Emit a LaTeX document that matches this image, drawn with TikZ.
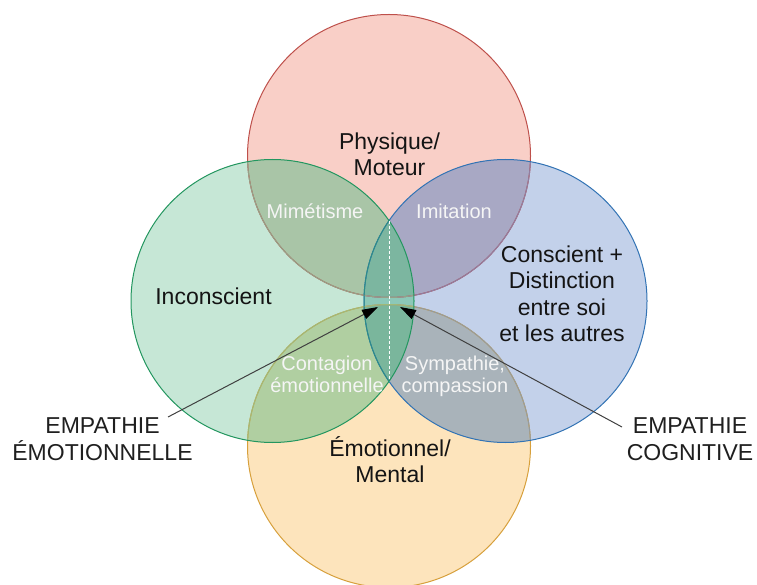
\documentclass[tikz,border=0pt]{standalone}
\usepackage{fontspec}
\setmainfont{Liberation Sans}
\usetikzlibrary{arrows.meta, positioning}
\definecolor{physfill}{RGB}{249,207,199}
\definecolor{physline}{RGB}{190,80,75}
\definecolor{emofill}{RGB}{253,228,188}
\definecolor{emoline}{RGB}{215,160,60}
\definecolor{consfill}{RGB}{195,209,234}
\definecolor{consline}{RGB}{50,115,180}
\definecolor{inconsfill}{RGB}{198,231,214}
\definecolor{inconsline}{RGB}{35,150,95}
\definecolor{mimfill}{RGB}{169,197,167}
\definecolor{imifill}{RGB}{168,168,196}
\definecolor{contfill}{RGB}{176,207,161}
\definecolor{sympfill}{RGB}{169,179,186}
\definecolor{lensfill}{RGB}{140,200,184}
\definecolor{lenstop}{RGB}{124,182,160}
\definecolor{lensbot}{RGB}{122,182,156}
\def\zr{141.5pt}

\begin{document}
\begin{tikzpicture}[x=1pt,y=-1pt,
  big/.style={font=\fontsize{23}{26.5}\selectfont,text=black!92,align=center,inner sep=0pt,anchor=base},
  small/.style={font=\fontsize{20}{21.5}\selectfont,text=white!96!black,align=center,inner sep=0pt,anchor=base},
  rim/.style={line width=1pt},
  pointer/.style={draw=black!75,line width=1pt,-{Triangle[length=16pt,width=10pt,black]}}]
\useasboundingbox (0,0) rectangle (757,585);
% centres of the four circles
\coordinate (c1) at (389,156);
\coordinate (c2) at (389,446);
\coordinate (c3) at (505.5,301);
\coordinate (c4) at (272.5,301);
\fill[physfill] (c1) circle[radius=\zr];
\fill[emofill] (c2) circle[radius=\zr];
\fill[consfill] (c3) circle[radius=\zr];
\fill[inconsfill] (c4) circle[radius=\zr];
% overlaps
\begin{scope}\clip (c1) circle[radius=\zr]; \fill[mimfill] (c4) circle[radius=\zr]; \fill[imifill] (c3) circle[radius=\zr];\end{scope}
\begin{scope}\clip (c2) circle[radius=\zr]; \fill[contfill] (c4) circle[radius=\zr]; \fill[sympfill] (c3) circle[radius=\zr];\end{scope}
\begin{scope}\clip (c3) circle[radius=\zr]; \fill[lensfill] (c4) circle[radius=\zr];\end{scope}
\begin{scope}\clip (c1) circle[radius=\zr]; \clip (c3) circle[radius=\zr]; \fill[lenstop] (c4) circle[radius=\zr];\end{scope}
\begin{scope}\clip (c2) circle[radius=\zr]; \clip (c3) circle[radius=\zr]; \fill[lensbot] (c4) circle[radius=\zr];\end{scope}
% rims, lower ones seen through the upper ones
\draw[rim,physline] (c1) circle[radius=\zr];
\draw[rim,emoline] (c2) circle[radius=\zr];
\begin{scope}\clip (c3) circle[radius=\zr];
  \draw[rim,color={rgb,255:red,145;green,125;blue,160}] (c1) circle[radius=\zr];
  \draw[rim,color={rgb,255:red,150;green,155;blue,155}] (c2) circle[radius=\zr];
\end{scope}
\draw[rim,consline] (c3) circle[radius=\zr];
\begin{scope}\clip (c4) circle[radius=\zr];
  \draw[rim,color={rgb,255:red,150;green,160;blue,135}] (c1) circle[radius=\zr];
  \draw[rim,color={rgb,255:red,160;green,185;blue,120}] (c2) circle[radius=\zr];
  \draw[rim,color={rgb,255:red,45;green,140;blue,135}] (c3) circle[radius=\zr];
\end{scope}
\draw[rim,inconsline] (c4) circle[radius=\zr];
\coordinate (x1) at (389,221);
\coordinate (x2) at (389,381);
\draw[white,line width=1pt,dash pattern=on 3pt off 2pt] (x1) -- (x2);
% titles
\node[big] (t1) at (389.5,176) {Physique/\\Moteur};
\node[big] (t2) at (213.5,304) {Inconscient};
\node[big] (t3) at (562,341.5) {Conscient +\\Distinction\\entre soi\\et les autres};
\node[big] (t4) at (390,482.5) {Émotionnel/\\Mental};
% overlap labels
\node[small] (m1) at (315,219) {Mimétisme};
\node[small] (m2) at (454,219) {Imitation};
\node[small] (m3) at (327,392) {Contagion\\émotionnelle};
\node[small] (m4) at (455,392) {Sympathie,\\compassion};
% empathy labels
\node[big,text=black!88] (e1) at (102.5,460) {EMPATHIE\\ÉMOTIONNELLE};
\node[big,text=black!88] (e2) at (690,460) {EMPATHIE\\COGNITIVE};
\coordinate (a1) at (168,417);
\coordinate (a2) at (622,427);
\coordinate (h1) at (378,307);
\coordinate (h2) at (400,307);
\draw[pointer] (a1) -- (h1);
\draw[pointer] (a2) -- (h2);
\end{tikzpicture}
\end{document}
